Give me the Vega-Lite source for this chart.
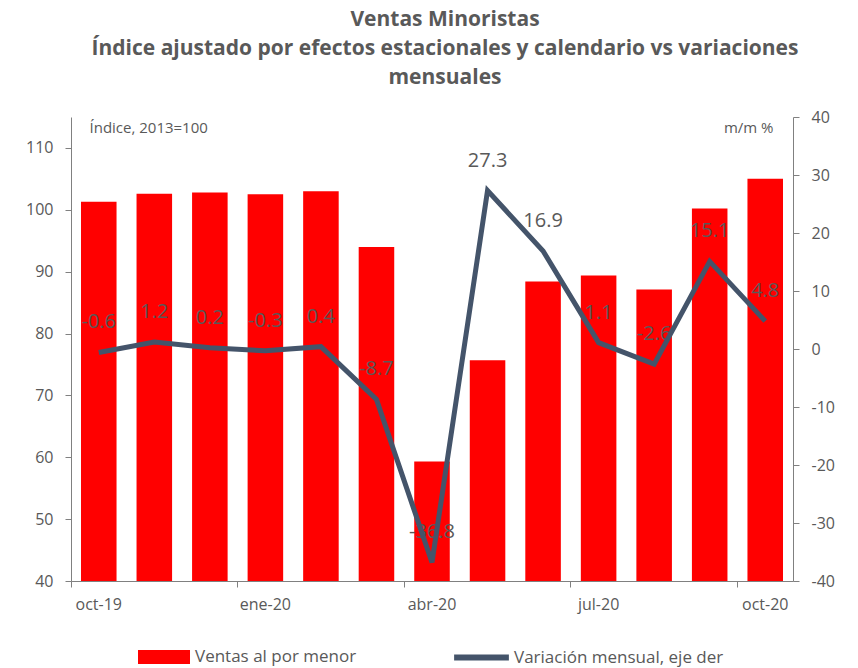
{
  "$schema": "https://vega.github.io/schema/vega-lite/v6.json",
  "width": 722,
  "height": 464,
  "autosize": {"type": "none"},
  "padding": {"left": 71, "top": 117, "right": 65, "bottom": 87},
  "background": "white",
  "config": {
    "view": {"stroke": null},
    "font": "Open Sans",
    "locale": {"number": {"decimal": ".", "thousands": ",", "grouping": [3], "currency": ["", ""], "minus": "-"}},
    "axis": {"labelFont": "Open Sans", "labelFontSize": 16, "labelColor": "#595959", "domainColor": "#808080", "tickColor": "#808080", "grid": false, "titleFont": "Open Sans", "titleFontSize": 15, "titleFontWeight": "normal", "titleColor": "#595959"}
  },
  "title": {
    "text": ["Ventas Minoristas", "Índice ajustado por efectos estacionales y calendario vs variaciones", "mensuales"],
    "font": "Open Sans",
    "fontSize": 21,
    "fontWeight": "bold",
    "color": "#595959",
    "lineHeight": 29,
    "anchor": "middle",
    "frame": "group",
    "dx": 13,
    "offset": 21
  },
  "data": {
    "values": [
      {"mes": "oct-19", "indice": 101.3, "var": -0.6, "s1": "Ventas al por menor", "s2": "Variación mensual, eje der"},
      {"mes": "nov-19", "indice": 102.6, "var": 1.2, "s1": "Ventas al por menor", "s2": "Variación mensual, eje der"},
      {"mes": "dic-19", "indice": 102.8, "var": 0.2, "s1": "Ventas al por menor", "s2": "Variación mensual, eje der"},
      {"mes": "ene-20", "indice": 102.5, "var": -0.3, "s1": "Ventas al por menor", "s2": "Variación mensual, eje der"},
      {"mes": "feb-20", "indice": 103.0, "var": 0.4, "s1": "Ventas al por menor", "s2": "Variación mensual, eje der"},
      {"mes": "mar-20", "indice": 94.0, "var": -8.7, "s1": "Ventas al por menor", "s2": "Variación mensual, eje der"},
      {"mes": "abr-20", "indice": 59.3, "var": -36.8, "s1": "Ventas al por menor", "s2": "Variación mensual, eje der"},
      {"mes": "may-20", "indice": 75.7, "var": 27.3, "s1": "Ventas al por menor", "s2": "Variación mensual, eje der"},
      {"mes": "jun-20", "indice": 88.4, "var": 16.9, "s1": "Ventas al por menor", "s2": "Variación mensual, eje der"},
      {"mes": "jul-20", "indice": 89.4, "var": 1.1, "s1": "Ventas al por menor", "s2": "Variación mensual, eje der"},
      {"mes": "ago-20", "indice": 87.1, "var": -2.6, "s1": "Ventas al por menor", "s2": "Variación mensual, eje der"},
      {"mes": "sep-20", "indice": 100.2, "var": 15.1, "s1": "Ventas al por menor", "s2": "Variación mensual, eje der"},
      {"mes": "oct-20", "indice": 105.0, "var": 4.8, "s1": "Ventas al por menor", "s2": "Variación mensual, eje der"}
    ]
  },
  "encoding": {
    "x": {
      "field": "mes",
      "type": "nominal",
      "sort": null,
      "scale": {"paddingInner": 0, "paddingOuter": 0},
      "axis": {
        "title": null,
        "values": ["oct-19", "ene-20", "abr-20", "jul-20", "oct-20"],
        "bandPosition": 0,
        "labelOffset": 0,
        "labelAngle": 0,
        "tickSize": 6,
        "labelPadding": 9
      }
    }
  },
  "layer": [
    {
      "mark": {"type": "bar", "width": {"band": 0.64}},
      "encoding": {
        "y": {
          "field": "indice",
          "type": "quantitative",
          "scale": {"domain": [40, 115], "zero": false, "nice": false},
          "axis": {
            "values": [40, 50, 60, 70, 80, 90, 100, 110],
            "title": "Índice, 2013=100",
            "titleAngle": 0,
            "titleX": 18,
            "titleY": 3,
            "titleAlign": "left",
            "titleBaseline": "top",
            "tickSize": 6,
            "labelPadding": 12
          }
        },
        "y2": {"datum": 40},
        "fill": {
          "field": "s1",
          "type": "nominal",
          "scale": {"range": ["#FF0000"]},
          "legend": {
            "title": null,
            "orient": "none",
            "legendX": 67,
            "legendY": 514,
            "padding": 0,
            "symbolType": "M-1,-0.27H1V0.27H-1Z",
            "symbolSize": 2704,
            "symbolFillColor": "#FF0000",
            "symbolStrokeWidth": 0,
            "labelFont": "Open Sans",
            "labelFontSize": 17,
            "labelLimit": 300,
            "labelColor": "#595959",
            "labelOffset": 5
          }
        }
      }
    },
    {
      "mark": {"type": "text", "dy": -30, "fontSize": 20, "color": "#595959", "font": "Open Sans"},
      "encoding": {
        "y": {"field": "var", "type": "quantitative", "scale": {"domain": [-40, 40], "nice": false}, "axis": null},
        "text": {"field": "var", "type": "quantitative", "format": ".1f"}
      }
    },
    {
      "mark": {"type": "line", "strokeWidth": 5, "strokeJoin": "miter"},
      "encoding": {
        "y": {
          "field": "var",
          "type": "quantitative",
          "scale": {"domain": [-40, 40], "nice": false},
          "axis": {
            "orient": "right",
            "values": [-40, -30, -20, -10, 0, 10, 20, 30, 40],
            "title": "m/m %",
            "titleAngle": 0,
            "titleX": -20,
            "titleY": 3,
            "titleAlign": "right",
            "titleBaseline": "top",
            "tickSize": 6,
            "labelPadding": 12
          }
        },
        "stroke": {
          "field": "s2",
          "type": "nominal",
          "scale": {"range": ["#44546A"]},
          "legend": {
            "title": null,
            "orient": "none",
            "legendX": 380,
            "legendY": 510,
            "padding": 0,
            "symbolType": "stroke",
            "symbolSize": 3000,
            "symbolStrokeWidth": 6,
            "labelFont": "Open Sans",
            "labelFontSize": 17,
            "labelLimit": 300,
            "labelColor": "#595959",
            "labelOffset": 2
          }
        }
      }
    }
  ],
  "resolve": {"scale": {"y": "independent"}}
}
